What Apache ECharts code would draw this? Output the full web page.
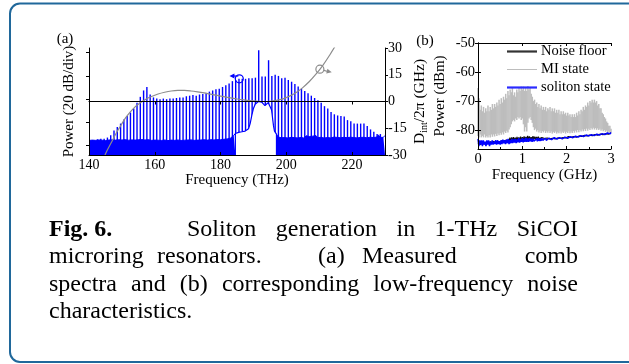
<!DOCTYPE html>
<html>
<head>
<meta charset="utf-8">
<title>Fig. 6 – Soliton generation in 1-THz SiCOI microring resonators</title>
<script src="https://cdn.jsdelivr.net/npm/echarts@6/dist/echarts.min.js"></script>
<style>
  html, body { margin: 0; padding: 0; background: #ffffff; }
  #chart { width: 629px; height: 364px; }
</style>
</head>
<body>
<div id="chart"></div>
<script>
// ---------------- (a) comb spectrum ----------------
// comb lines: first line frequency and line spacing (THz)
const combStartTHz = 142.6;
const combSpacingTHz = 1.0;
// comb line peak power (dB, relative scale of the left axis)
const combPeak = [
  13.5, 14, 14, 15, 17, 21, 24, 27, 30.5, 33.5,
  36.5, 40, 45, 50, 55.5, 58.5, 52, 49.5, 48.5, 48,
  48.5, 48, 48.5, 48.5, 49, 49.5, 49.5, 50.5, 51, 51.5,
  51, 52, 52.5, 53, 54.5, 55.5, 56.5, 57, 58.5, 60,
  61.5, 63.5, 64.5, 65.5, 65.5, 65.5, 66, 66, 66.5, 90,
  67.5, 67.5, 81.5, 68, 69, 68, 66, 66.5, 64.5, 63,
  61, 59, 57, 55, 53, 51, 49, 47, 45, 42,
  40, 37, 35, 34, 33.5, 33, 30, 29, 27, 27,
  27, 27, 25, 22, 20, 18, 18
];
// OSA noise floor sampled every 0.5 THz
const floorStepTHz = 0.5;
const floorLeftStartTHz = 140.0;
const floorLeft = [
  12.5, 13.2, 12.8, 13.4, 12.6, 13.6, 12.9, 13.5, 12.7, 13.3,
  12.4, 13.8, 12.9, 14.2, 13.0, 13.6, 12.8, 14.0, 13.1, 13.7,
  12.9, 14.1, 13.2, 13.8, 12.7, 14.3, 13.0, 13.9, 12.8, 13.6,
  13.1, 14.5, 13.3, 14.2, 12.9, 14.6, 13.2, 13.8, 12.6, 13.5,
  12.8, 13.9, 12.7, 13.4, 12.5, 13.7, 12.9, 13.3, 12.4, 13.6,
  12.8, 13.2, 12.6, 13.9, 12.9, 13.4, 12.5, 13.8, 12.7, 13.5,
  12.9, 14.0, 13.0, 13.6, 12.6, 13.9, 12.8, 13.5, 12.9, 14.1,
  13.1, 13.7, 12.8, 14.0, 13.2, 13.8, 12.9, 14.2, 13.3, 14.0,
  13.1, 14.4, 13.5, 14.6, 13.8, 15.3, 14.5, 16.2, 16.8, 18.5
];
const floorRightStartTHz = 197.0;
const floorRight = [
  18.0, 15.5, 16.2, 14.8, 16.5, 15.0, 16.3, 14.6, 16.0, 15.2,
  16.6, 14.9, 15.8, 14.7, 16.4, 15.1, 16.1, 14.5, 16.5, 15.0,
  15.9, 14.8, 16.2, 15.3, 16.7, 14.9, 16.0, 15.2, 16.4, 14.6,
  15.8, 15.0, 16.3, 14.7, 16.0, 15.4, 16.8, 15.1, 16.2, 14.8,
  15.9, 15.2, 16.5, 14.9, 16.1, 15.3, 16.6, 15.0, 16.0, 14.7,
  16.3, 15.1, 16.7, 15.2, 16.1, 14.8, 16.4, 15.3, 17.0, 15.0,
  16.2, 15.4, 17.3, 15.1, 16.5, 15.2, 16.8
];
// spectrum around the pump, above the noise floor
const pumpHumpTHz = [
  184.5, 184.5, 185.0, 185.5, 186.0, 186.5, 187.0, 187.5, 188.0, 188.5,
  189.0, 189.5, 190.0, 190.5, 191.0, 191.5, 192.0, 192.5, 193.0, 193.5,
  194.0, 194.5, 195.0, 195.5, 195.8, 196.1, 196.4, 196.7, 197.0, 197.0
];
const pumpHumpLevel = [
  0, 18.5, 19, 19.5, 19.2, 20, 20.3, 20.6, 21, 22.5,
  27, 34, 40, 43.5, 45, 46, 46, 45.5, 44, 42.5,
  43, 45, 44.5, 39, 32, 25, 20.5, 19, 18, 0
];
// integrated dispersion D_int/2π (GHz)
const dintTHz = [
  144.5, 145.5, 146.5, 147.5, 148.5, 149.5, 151, 152.5, 154, 155.5,
  157, 159, 161, 163, 165, 167, 169, 171, 173, 175,
  177, 179, 181, 183, 185, 187, 189, 191, 193, 195,
  197, 199, 201, 203, 205, 207, 209, 211, 213, 215
];
const dintGHz = [
  -31.5, -27.5, -24, -20.5, -17, -14, -9.5, -6, -3, -0.8,
  1, 2.8, 4.2, 5.2, 5.9, 6.2, 6.2, 5.9, 5.4, 4.8,
  4.1, 3.4, 2.7, 2.0, 1.4, 0.9, 0.5, 0.2, 0.0, 0.1,
  0.6, 1.5, 3.0, 5.0, 7.8, 11.2, 15.3, 20.0, 25.5, 31.5
];
const thzTicks = [140, 160, 180, 200, 220];
const powerDivTicks = [8, 28, 48, 68, 88];

// ---------------- (b) low-frequency noise ----------------
// MI state: dense trace, kept as max/min per 0.025 GHz bin
const miStepGHz = 0.025;
const miUpper = [
  -65.5, -69, -73, -71.5, -73.5, -72, -74, -72.5, -73.5, -71.5,
  -73.5, -72, -73, -71, -72.5, -71, -72, -70.5, -71.5, -69.5,
  -71, -69, -70.5, -68.5, -69.5, -67.5, -69, -66.5, -68, -66,
  -67, -65.5, -68, -67, -68.5, -66, -67, -65.5, -66.5, -65,
  -66, -65, -66.5, -65.5, -66.5, -64.8, -66, -65.5, -67.5, -68.5,
  -70, -69.5, -71, -70.5, -72, -71, -72.5, -71.5, -73, -72,
  -73, -72, -73.5, -72.5, -73, -72, -73.5, -72.5, -73.5, -72.5,
  -74, -73, -74, -73, -74.5, -73.5, -74.5, -73.5, -74.5, -74,
  -75, -74, -75, -74.5, -75.5, -74.5, -75.5, -74.5, -75.5, -74,
  -75, -73.5, -74.5, -73, -73.5, -72, -73, -71.5, -72, -70.5,
  -71.5, -70, -70.5, -69.5, -70.5, -69.5, -70.5, -70, -71.5, -71,
  -72.5, -72.5, -74, -74.5, -75.5, -76, -77, -77.5, -78.5, -78.5,
  -79.5
];
const miLower = [
  -82, -82.5, -81.5, -82.5, -82, -82.5, -81.5, -82.5, -82, -82.5,
  -81.8, -82.5, -81.5, -82.3, -81.5, -82.2, -81.3, -82, -81.2, -81.8,
  -81, -81.6, -80.8, -81.5, -80.5, -81, -80.2, -80.8, -79.8, -79,
  -78, -77, -76.5, -77, -76, -76.5, -75.5, -76, -75.5, -76.5,
  -76, -78, -80.5, -79, -80.5, -77.5, -76, -75.5, -76.5, -77.5,
  -79, -80, -79.5, -80.5, -80, -80.8, -80.2, -81, -80.3, -80.8,
  -80.2, -81, -80.4, -80.9, -80.3, -81, -80.5, -81.2, -80.6, -81,
  -80.5, -81.2, -80.7, -81.1, -80.5, -81.2, -80.6, -81, -80.5, -81.2,
  -80.6, -81, -80.4, -81.1, -80.5, -81, -80.3, -80.9, -80.2, -80.8,
  -80, -80.7, -80, -80.5, -79.8, -80.4, -79.7, -80.3, -79.5, -80.2,
  -79.5, -80, -79.3, -79.8, -79.2, -79.8, -79.3, -79.9, -79.4, -80,
  -79.5, -80.2, -79.8, -80.4, -80, -80.6, -80.2, -80.8, -80.5, -81,
  -80.8
];
const rfStepGHz = 0.02;
const noiseFloor = [
  -84.5, -85, -84, -85, -84.2, -84.8,
  -84, -84.8, -84.2, -85, -84,
  -84.7, -84, -84.8, -83.9, -84.6,
  -84, -84.6, -83.8, -84.5, -83.9,
  -84.5, -83.8, -84.4, -83.7, -84.4,
  -83.7, -84.3, -83.6, -84.2, -83.5,
  -84.2, -83.4, -84, -83.3, -84,
  -82.6, -83.9, -82.5, -83.8, -82.4,
  -83.7, -82.6, -83.6, -82.3, -83.6,
  -82.5, -83.5, -82.2, -83.5, -82.4,
  -83.4, -82.2, -83.4, -82.3, -83.3,
  -82, -83.3, -82.2, -83.2, -82.4,
  -83.2, -82.1, -83.2, -82.3, -83.1,
  -82.4, -83.1, -82.3, -83, -82.5,
  -83, -82.6, -83, -82.4, -82.9,
  -82.6, -82.9, -82.7, -83, -82.8,
  -83, -82.9, -83.1, -82.8, -83,
  -82.9, -83, -82.8, -82.9, -82.7,
  -82.9, -82.7, -82.8, -82.6, -82.8,
  -82.6, -82.8, -82.5, -82.7, -82.4,
  -82.7, -82.2, -82.6, -82.1, -82.5,
  -82.1, -82.5, -82.2, -82.4, -82.1,
  -82.4, -82, -82.3, -82, -82.3,
  -81.9, -82.2, -81.9, -82.1, -81.8,
  -82.1, -81.8, -82, -81.7, -82,
  -81.7, -81.9, -81.6, -81.9, -81.6,
  -81.8, -81.5, -81.8, -81.5, -81.7,
  -81.4, -81.7, -81.4, -81.6, -81.3,
  -81.6, -81.3, -81.5, -81.2, -81.5,
  -81.2, -81.4, -81.1, -81.3, -81.0
];
const solitonState = [
  -83, -85.5, -83.5, -85, -83.5, -85.5,
  -83.5, -85, -84, -85.5, -83.5,
  -85, -83.5, -85.5, -84, -85,
  -83.5, -85, -84, -84.8, -83.5,
  -85, -83.5, -84.8, -83.8, -85,
  -83.5, -84.8, -83.3, -84.5, -83.5,
  -84.8, -83.3, -84.5, -83, -84.8,
  -83.5, -84.5, -83, -84.5, -83.2,
  -84.3, -83, -84.5, -83.2, -84.2,
  -82.8, -84.3, -83.2, -84, -82.8,
  -84.2, -83, -84, -82.7, -84,
  -83, -84, -82.8, -83.8, -83,
  -84, -83, -83.8, -83.2, -84,
  -83, -83.8, -82.8, -83.7, -83,
  -83.7, -82.8, -83.5, -83, -83.6,
  -82.8, -83.5, -82.9, -83.4, -82.8,
  -83.4, -82.7, -83.3, -82.8, -83.2,
  -82.6, -83.2, -82.7, -83.1, -82.6,
  -83.1, -82.6, -83, -82.5, -83,
  -82.5, -82.9, -82.4, -82.9, -82.5,
  -82.8, -82.3, -82.8, -82.3, -82.7,
  -82.2, -82.6, -82.1, -82.6, -82.1,
  -82.5, -82, -82.4, -81.9, -82.4,
  -81.9, -82.3, -81.8, -82.2, -81.8,
  -82.1, -81.7, -82.1, -81.7, -82,
  -81.6, -82, -81.6, -81.9, -81.5,
  -81.9, -81.5, -81.8, -81.4, -81.8,
  -81.4, -81.7, -81.3, -81.6, -81.2,
  -81.6, -81.2, -81.5, -81.1, -81.4,
  -81, -81.4, -80.9, -81.3, -80.8
];
const dbmTicks = [-50, -60, -70, -80];
const legendNames = ['Noise floor', 'MI state', 'soliton state'];

// ---------------- drawing ----------------
const SERIF = '"Liberation Serif", "Times New Roman", serif';
const BLUE = '#0000ff';
const MI_GRAY = '#bdbdbd';
const NAME_SIZE = 15;
const chart = echarts.init(document.getElementById('chart'));

const combData = combPeak.map((p, i) => [combStartTHz + i * combSpacingTHz, p]);
const floorLeftData = floorLeft.map((v, i) => [floorLeftStartTHz + i * floorStepTHz, v]);
const floorRightData = floorRight.map((v, i) => [floorRightStartTHz + i * floorStepTHz, v]);
const humpData = pumpHumpTHz.map((f, i) => [f, pumpHumpLevel[i]]);
const dintData = dintTHz.map((f, i) => [f, dintGHz[i]]);
const miData = miUpper.map((u, i) => [Math.round(i * miStepGHz * 1000) / 1000, miLower[i], u]);
const rfPairs = arr => arr.map((v, i) => [Math.round(i * rfStepGHz * 100) / 100, v]);

const txt = (size, extra) => Object.assign({ fontFamily: SERIF, fontSize: size, color: '#000' }, extra || {});
const frameLine = { show: true, lineStyle: { color: '#000', width: 1 } };

// vertical stroke between two values of the same sample
const verticalStroke = (color, width) => (params, api) => {
  const f = api.value(0);
  const a = api.coord([f, api.value(1)]);
  const b = api.coord([f, api.value(2)]);
  return { type: 'line', shape: { x1: a[0], y1: a[1], x2: b[0], y2: b[1] }, style: { stroke: color, lineWidth: width } };
};

const option = {
  animation: false,
  backgroundColor: '#ffffff',
  grid: [
    { left: 89, top: 48, width: 296, height: 107 },
    { left: 478, top: 43, width: 133, height: 106 }
  ],
  xAxis: [
    {
      gridIndex: 0, type: 'value', min: 140, max: 230, interval: 20, position: 'bottom', z: 10,
      axisLine: frameLine,
      axisTick: { inside: true, length: 3, lineStyle: { color: '#000' } },
      axisLabel: Object.assign(txt(14), { margin: 3, formatter: v => thzTicks.includes(v) ? String(v) : '' }),
      splitLine: { show: false },
      name: 'Frequency (THz)', nameLocation: 'middle', nameGap: 17, nameTextStyle: txt(NAME_SIZE)
    },
    {
      gridIndex: 0, type: 'value', min: 140, max: 230, interval: 20, position: 'top', z: 10,
      axisLine: frameLine,
      axisTick: { inside: true, length: 3, lineStyle: { color: '#000' } },
      axisLabel: { show: false }, splitLine: { show: false }
    },
    {
      gridIndex: 1, type: 'value', min: 0, max: 3, interval: 1, position: 'bottom', z: 10,
      axisLine: frameLine,
      axisTick: { inside: true, length: 3, lineStyle: { color: '#000' } },
      minorTick: { show: true, splitNumber: 2, length: 2, lineStyle: { color: '#000' } },
      axisLabel: Object.assign(txt(14.5), { margin: 3 }),
      splitLine: { show: false },
      name: 'Frequency (GHz)', nameLocation: 'middle', nameGap: 18, nameTextStyle: txt(NAME_SIZE)
    },
    {
      gridIndex: 1, type: 'value', min: 0, max: 3, interval: 1, position: 'top', z: 10,
      axisLine: frameLine,
      axisTick: { inside: true, length: 3, lineStyle: { color: '#000' } },
      axisLabel: { show: false }, splitLine: { show: false }
    }
  ],
  yAxis: [
    {
      gridIndex: 0, type: 'value', min: 0, max: 92, position: 'left', z: 10,
      axisLine: frameLine,
      axisTick: { show: true, inside: false, length: 3, customValues: powerDivTicks, lineStyle: { color: '#000' } },
      axisLabel: { show: false }, splitLine: { show: false },
      name: 'Power (20 dB/div)', nameLocation: 'middle', nameGap: 12, nameTextStyle: txt(NAME_SIZE)
    },
    {
      gridIndex: 0, type: 'value', min: -30, max: 30, interval: 15, position: 'right', z: 10,
      axisLine: frameLine,
      axisTick: { show: true, inside: false, length: 3, lineStyle: { color: '#000' } },
      axisLabel: Object.assign(txt(14), { margin: 3 }), splitLine: { show: false },
      name: '{m|D}{s|int}{m|/2\u03c0 (GHz)}', nameLocation: 'middle', nameGap: 26,
      nameTextStyle: Object.assign(txt(NAME_SIZE), {
        rich: {
          m: txt(15.5, { lineHeight: 18 }),
          s: txt(10, { lineHeight: 18, verticalAlign: 'bottom' })
        }
      })
    },
    {
      gridIndex: 1, type: 'value', min: -86.5, max: -50, position: 'left', z: 10,
      axisLine: frameLine,
      axisTick: { show: true, inside: true, length: 3, customValues: dbmTicks, lineStyle: { color: '#000' } },
      axisLabel: Object.assign(txt(14.5), { margin: 3, customValues: dbmTicks }),
      splitLine: { show: false },
      name: 'Power (dBm)', nameLocation: 'middle', nameGap: 30, nameTextStyle: txt(NAME_SIZE)
    },
    {
      gridIndex: 1, type: 'value', min: -86.5, max: -50, position: 'right', z: 10,
      axisLine: frameLine,
      axisTick: { show: true, inside: true, length: 3, customValues: dbmTicks, lineStyle: { color: '#000' } },
      axisLabel: { show: false }, splitLine: { show: false }
    }
  ],
  series: [
    { // 0: noise floor, red side of pump
      name: 'floor-low', type: 'line', xAxisIndex: 0, yAxisIndex: 0, z: 2,
      data: floorLeftData, symbol: 'none', silent: true,
      lineStyle: { color: BLUE, width: 1 }, areaStyle: { color: BLUE, opacity: 1, origin: 'start' }
    },
    { // 1: noise floor, blue side of pump
      name: 'floor-high', type: 'line', xAxisIndex: 0, yAxisIndex: 0, z: 2,
      data: floorRightData, symbol: 'none', silent: true,
      lineStyle: { color: BLUE, width: 1 }, areaStyle: { color: BLUE, opacity: 1, origin: 'start' }
    },
    { // 2: comb lines
      name: 'comb', type: 'custom', xAxisIndex: 0, yAxisIndex: 0, z: 3, silent: true,
      data: combData,
      renderItem: (params, api) => {
        const f = api.value(0);
        const top = api.coord([f, api.value(1)]);
        const bottom = api.coord([f, 0]);
        return {
          type: 'line',
          shape: { x1: top[0], y1: top[1], x2: bottom[0], y2: bottom[1] },
          style: { stroke: BLUE, lineWidth: 1.4 }
        };
      }
    },
    { // 3: pump region spectrum (white underneath)
      name: 'pump', type: 'line', xAxisIndex: 0, yAxisIndex: 0, z: 4,
      data: humpData, symbol: 'none', silent: true,
      lineStyle: { color: BLUE, width: 1.2 }, areaStyle: { color: '#ffffff', opacity: 1, origin: 'start' }
    },
    { // 4: zero-dispersion reference line
      name: 'zero', type: 'line', xAxisIndex: 0, yAxisIndex: 1, z: 2, data: [], silent: true,
      markLine: {
        silent: true, symbol: ['none', 'none'], label: { show: false },
        lineStyle: { color: '#666', type: [1.5, 2], width: 0.8 },
        data: [{ yAxis: 0 }]
      }
    },
    { // 5: D_int curve
      name: 'dint', type: 'line', xAxisIndex: 0, yAxisIndex: 1, z: 5,
      data: dintData, symbol: 'none', smooth: 0.3, silent: true,
      lineStyle: { color: '#8c8c8c', width: 1.2 }
    },
    { // 6: MI state (max/min per bin)
      name: 'MI state', type: 'custom', xAxisIndex: 2, yAxisIndex: 2, z: 2, silent: true,
      data: miData, encode: { x: 0, y: [1, 2] },
      renderItem: verticalStroke(MI_GRAY, 1.5)
    },
    { // 7
      name: 'Noise floor', type: 'line', xAxisIndex: 2, yAxisIndex: 2, z: 3,
      data: rfPairs(noiseFloor), symbol: 'none', silent: true,
      lineStyle: { color: '#111111', width: 1.2 }
    },
    { // 8
      name: 'soliton state', type: 'line', xAxisIndex: 2, yAxisIndex: 2, z: 4,
      data: rfPairs(solitonState), symbol: 'none', silent: true,
      lineStyle: { color: BLUE, width: 1.5 }
    }
  ]
};
chart.setOption(option);

// ---------------- annotations, legend, frame and caption ----------------
function arrowHead(tip, from, len, half) {
  const dx = tip[0] - from[0], dy = tip[1] - from[1];
  const d = Math.hypot(dx, dy) || 1;
  const ux = dx / d, uy = dy / d;
  const bx = tip[0] - ux * len, by = tip[1] - uy * len;
  return [[tip[0], tip[1]], [bx - uy * half, by + ux * half], [bx + uy * half, by - ux * half]];
}
// circle-and-arrow markers pointing to the axis each trace belongs to
const combCircle = chart.convertToPixel({ seriesIndex: 0 }, [185.7, 65.5]);
const combTip = chart.convertToPixel({ seriesIndex: 0 }, [182.7, 67.9]);
const dintCircle = chart.convertToPixel({ seriesIndex: 5 }, [210.2, 18.1]);
const dintTip = chart.convertToPixel({ seriesIndex: 5 }, [213.8, 16.4]);
const combFrom = [combCircle[0] - 1, combTip[1]];
const dintFrom = [dintCircle[0] + 4, dintCircle[1] + 1.2];

const graphics = [
  { // figure frame
    type: 'rect', z: -10, silent: true,
    shape: { x: 10, y: 3.5, width: 640, height: 358.5, r: 10 },
    style: { fill: 'none', stroke: '#20689b', lineWidth: 2 }
  },
  { type: 'circle', z: 100, shape: { cx: combCircle[0], cy: combCircle[1], r: 4 }, style: { fill: 'none', stroke: BLUE, lineWidth: 1.2 } },
  { type: 'line', z: 100, shape: { x1: combFrom[0], y1: combFrom[1], x2: combTip[0] + 3, y2: combTip[1] }, style: { stroke: BLUE, lineWidth: 1.2 } },
  { type: 'polygon', z: 100, shape: { points: arrowHead(combTip, combFrom, 5, 2.5) }, style: { fill: BLUE } },
  { type: 'circle', z: 100, shape: { cx: dintCircle[0], cy: dintCircle[1], r: 4 }, style: { fill: 'none', stroke: '#8c8c8c', lineWidth: 1.2 } },
  { type: 'line', z: 100, shape: { x1: dintFrom[0], y1: dintFrom[1], x2: dintTip[0] - 3, y2: dintTip[1] - 0.5 }, style: { stroke: '#8c8c8c', lineWidth: 1.2 } },
  { type: 'polygon', z: 100, shape: { points: arrowHead(dintTip, dintFrom, 5, 2.5) }, style: { fill: '#8c8c8c' } },
  // panel labels
  { type: 'text', z: 100, style: { text: '(a)', x: 65, y: 39, align: 'center', verticalAlign: 'middle', font: '15px ' + SERIF, fill: '#000' } },
  { type: 'text', z: 100, style: { text: '(b)', x: 425, y: 41, align: 'center', verticalAlign: 'middle', font: '15px ' + SERIF, fill: '#000' } }
];

// legend of panel (b)
const legendStyles = [
  { stroke: '#333333', lineWidth: 2.2 },
  { stroke: MI_GRAY, lineWidth: 1 },
  { stroke: '#2a2aff', lineWidth: 2.2 }
];
legendNames.forEach((name, i) => {
  const y = 51.5 + i * 18;
  graphics.push({ type: 'line', z: 100, shape: { x1: 507, y1: y, x2: 537, y2: y }, style: legendStyles[i] });
  graphics.push({ type: 'text', z: 100, style: { text: name, x: 541, y: y, align: 'left', verticalAlign: 'middle', font: '14.5px ' + SERIF, fill: '#000' } });
});

// caption
const CAP = 24;
const capLeft = 49, capRight = 578;
const capFont = bold => (bold ? 'bold ' : '') + CAP + 'px ' + SERIF;
const measureCtx = document.createElement('canvas').getContext('2d');
const wordWidth = (w, bold) => { measureCtx.font = capFont(bold); return measureCtx.measureText(w).width; };
// spread words evenly between x0 and x1
function justify(words, x0, x1) {
  const widths = words.map(w => wordWidth(w, false));
  const gap = (x1 - x0 - widths.reduce((a, b) => a + b, 0)) / (words.length - 1);
  const xs = []; let x = x0;
  widths.forEach(w => { xs.push(x); x += w + gap; });
  return xs;
}
const capMid = [229.5, 257, 284.5, 312];
const capWords = [];
capWords.push({ t: 'Fig.', x: capLeft, line: 0, bold: true });
capWords.push({ t: '6.', x: capLeft + wordWidth('Fig. ', true), line: 0, bold: true });
const l1 = ['Soliton', 'generation', 'in', '1-THz', 'SiCOI'];
justify(l1, 187, capRight).forEach((x, i) => capWords.push({ t: l1[i], x, line: 0 }));
capWords.push({ t: 'microring', x: capLeft, line: 1 });
capWords.push({ t: 'resonators.', x: 157, line: 1 });
capWords.push({ t: '(a)', x: 318, line: 1 });
capWords.push({ t: 'Measured', x: 362, line: 1 });
capWords.push({ t: 'comb', x: capRight - wordWidth('comb', false), line: 1 });
const l3 = ['spectra', 'and', '(b)', 'corresponding', 'low-frequency', 'noise'];
justify(l3, capLeft, capRight).forEach((x, i) => capWords.push({ t: l3[i], x, line: 2 }));
capWords.push({ t: 'characteristics.', x: capLeft, line: 3 });
capWords.forEach(w => graphics.push({
  type: 'text', z: 100,
  style: { text: w.t, x: w.x, y: capMid[w.line], align: 'left', verticalAlign: 'middle', font: capFont(w.bold), fill: '#000' }
}));

chart.setOption({ graphic: graphics });
</script>
</body>
</html>
